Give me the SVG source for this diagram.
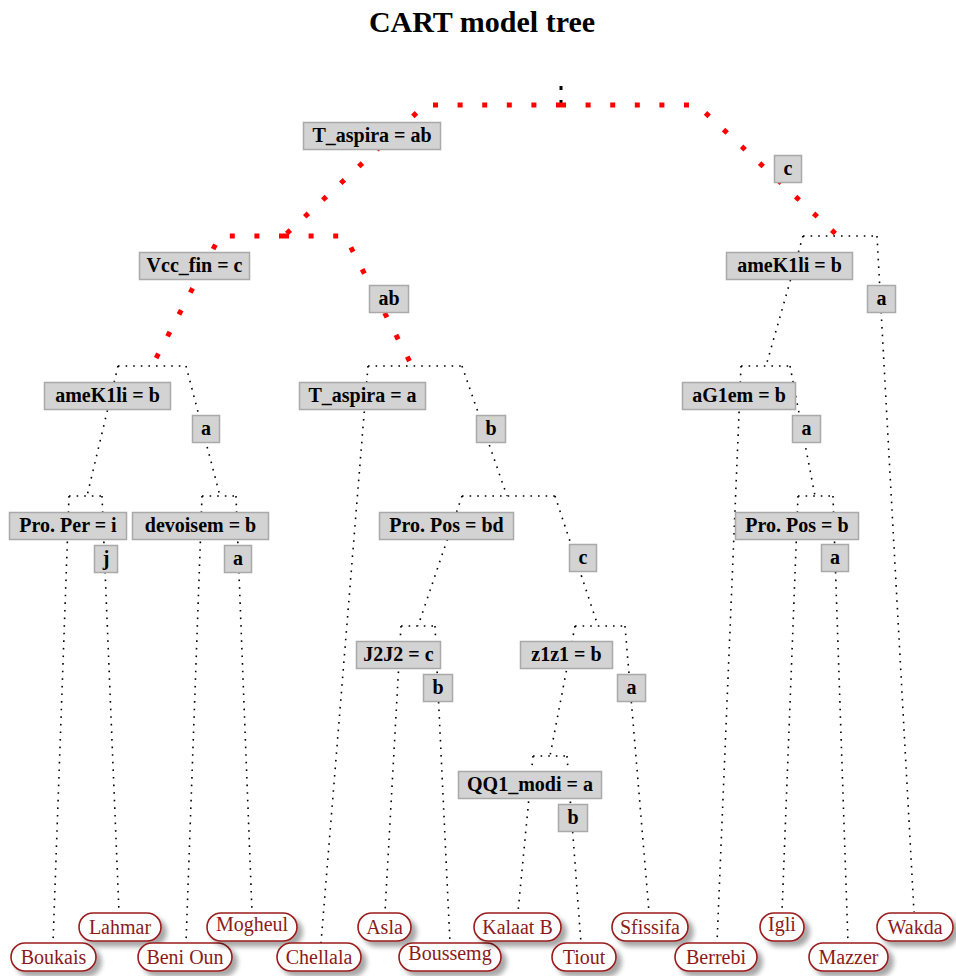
<svg xmlns="http://www.w3.org/2000/svg" width="956" height="976" viewBox="0 0 956 976">
<style>
.e{fill:none;stroke:#000;stroke-width:1.6;stroke-dasharray:1.6 6}
.r{fill:none;stroke:#f00;stroke-width:5;stroke-dasharray:5 19.6}
.lb rect{fill:#d3d3d3;stroke:#a9a9a9;stroke-width:1.5}
.lb text{font-family:"Liberation Serif","Times New Roman",serif;font-weight:bold;font-size:20px;fill:#000;text-anchor:middle}
.lf rect{fill:#fff;stroke:#9a1b1b;stroke-width:1.6}
.lf text{font-family:"Liberation Serif","Times New Roman",serif;font-size:20px;fill:#8b1a1a;text-anchor:middle}
.t{font-family:"Liberation Serif","Times New Roman",serif;font-weight:bold;font-size:30px;fill:#000;text-anchor:middle}
</style>
<defs>
<filter id="sh" x="-20%" y="-30%" width="150%" height="180%">
<feGaussianBlur in="SourceAlpha" stdDeviation="2.5"/>
<feOffset dx="5" dy="5" result="b"/>
<feComponentTransfer><feFuncA type="linear" slope="0.35"/></feComponentTransfer>
<feMerge><feMergeNode/><feMergeNode in="SourceGraphic"/></feMerge>
</filter>
</defs>
<rect width="956" height="976" fill="#fff"/>
<text class="t" x="482" y="32">CART model tree</text>

<g id="connectors">
<line x1="561" y1="86" x2="561" y2="107" stroke="#000" stroke-width="3" stroke-dasharray="4 10 7"/>
<path class="e" d="M803,236H877M803,236L766,366M877,236L914,912"/>
<path class="e" d="M118,366H186M118,366L87,496M186,366L220,496"/>
<path class="e" d="M368,366H462M368,366L321,943M462,366L507,496"/>
<path class="e" d="M69,496H102M69,496L53,943M102,496L119,912"/>
<path class="e" d="M202,496H236M202,496L186,943M236,496L252,912"/>
<path class="e" d="M462,496H555M462,496L418,626M555,496L598,626"/>
<path class="e" d="M401,626H435M401,626L385,912M435,626L450,943"/>
<path class="e" d="M575,626H625M575,626L550,756M625,626L649,912"/>
<path class="e" d="M533,756H567M533,756L518,912M567,756L581,943"/>
<path class="e" d="M741,366H790M741,366L717,943M790,366L815,496"/>
<path class="e" d="M798,496H833M798,496L782,912M833,496L848,943"/>
<path class="r" d="M561,105H425L284,236"/>
<path class="r" d="M561,105H697L838,236"/>
<path class="r" d="M284,236H220L152,366"/>
<path class="r" d="M284,236H345L412,366"/>
</g>

<g id="n-t_aspira_ab" class="lb"><rect x="303.5" y="122.5" width="137" height="27"/><text x="372" y="141.5">T_aspira = ab</text></g>
<g id="n-c1" class="lb"><rect x="774.5" y="155.5" width="27" height="27"/><text x="788" y="174.5">c</text></g>
<g id="n-vcc_fin" class="lb"><rect x="139.5" y="252.5" width="110" height="27"/><text x="194.5" y="271.5">Vcc_fin = c</text></g>
<g id="n-ab" class="lb"><rect x="369.5" y="285.5" width="39" height="27"/><text x="389" y="304.5">ab</text></g>
<g id="n-amek1li_l" class="lb"><rect x="44.5" y="382.5" width="126" height="27"/><text x="107.5" y="401.5">ameK1li = b</text></g>
<g id="n-a1" class="lb"><rect x="192.5" y="415.5" width="27" height="27"/><text x="206" y="434.5">a</text></g>
<g id="n-t_aspira_a" class="lb"><rect x="299.5" y="382.5" width="126" height="27"/><text x="362.5" y="401.5">T_aspira = a</text></g>
<g id="n-b1" class="lb"><rect x="476.5" y="415.5" width="29" height="27"/><text x="491" y="434.5">b</text></g>
<g id="n-proper" class="lb"><rect x="9.5" y="512.5" width="117" height="27"/><text x="68" y="531.5">Pro. Per = i</text></g>
<g id="n-j" class="lb"><rect x="94.5" y="545.5" width="23" height="27"/><text x="106" y="564.5">j</text></g>
<g id="n-devoisem" class="lb"><rect x="132.5" y="512.5" width="136" height="27"/><text x="200.5" y="531.5">devoisem = b</text></g>
<g id="n-a2" class="lb"><rect x="224.5" y="545.5" width="27" height="27"/><text x="238" y="564.5">a</text></g>
<g id="n-propos_bd" class="lb"><rect x="379.5" y="512.5" width="134" height="27"/><text x="446.5" y="531.5">Pro. Pos = bd</text></g>
<g id="n-c2" class="lb"><rect x="569.5" y="544.5" width="27" height="27"/><text x="583" y="563.5">c</text></g>
<g id="n-j2j2" class="lb"><rect x="356.5" y="641.5" width="84" height="27"/><text x="398.5" y="660.5">J2J2 = c</text></g>
<g id="n-b2" class="lb"><rect x="423.5" y="674.5" width="29" height="27"/><text x="438" y="693.5">b</text></g>
<g id="n-z1z1" class="lb"><rect x="520.5" y="641.5" width="92" height="27"/><text x="566.5" y="660.5">z1z1 = b</text></g>
<g id="n-a3" class="lb"><rect x="617.5" y="674.5" width="28" height="27"/><text x="631.5" y="693.5">a</text></g>
<g id="n-qq1" class="lb"><rect x="458.5" y="771.5" width="143" height="27"/><text x="530" y="790.5">QQ1_modi = a</text></g>
<g id="n-b3" class="lb"><rect x="558.5" y="804.5" width="29" height="27"/><text x="573" y="823.5">b</text></g>
<g id="n-amek1li_r" class="lb"><rect x="726.5" y="252.5" width="126" height="27"/><text x="789.5" y="271.5">ameK1li = b</text></g>
<g id="n-a4" class="lb"><rect x="867.5" y="285.5" width="28" height="27"/><text x="881.5" y="304.5">a</text></g>
<g id="n-ag1em" class="lb"><rect x="682.5" y="382.5" width="113" height="27"/><text x="739" y="401.5">aG1em = b</text></g>
<g id="n-a5" class="lb"><rect x="792.5" y="415.5" width="28" height="27"/><text x="806.5" y="434.5">a</text></g>
<g id="n-propos_b" class="lb"><rect x="735.5" y="512.5" width="123" height="27"/><text x="797" y="531.5">Pro. Pos = b</text></g>
<g id="n-a6" class="lb"><rect x="821.5" y="544.5" width="27" height="27"/><text x="835" y="563.5">a</text></g>

<g id="leaf-boukais" class="lf"><rect x="11" y="943" width="85" height="28" rx="14" filter="url(#sh)"/><text x="53.5" y="964">Boukais</text></g>
<g id="leaf-lahmar" class="lf"><rect x="79" y="913" width="82" height="28" rx="14" filter="url(#sh)"/><text x="120" y="934">Lahmar</text></g>
<g id="leaf-benioun" class="lf"><rect x="138" y="943" width="94" height="28" rx="14" filter="url(#sh)"/><text x="185" y="964">Beni Oun</text></g>
<g id="leaf-mogheul" class="lf"><rect x="207" y="913" width="90" height="28" rx="14" filter="url(#sh)"/><text x="252" y="931">Mogheul</text></g>
<g id="leaf-chellala" class="lf"><rect x="277" y="943" width="84" height="28" rx="14" filter="url(#sh)"/><text x="319" y="964">Chellala</text></g>
<g id="leaf-asla" class="lf"><rect x="358" y="913" width="53" height="28" rx="14" filter="url(#sh)"/><text x="384.5" y="934">Asla</text></g>
<g id="leaf-boussemg" class="lf"><rect x="399" y="943" width="102" height="28" rx="14" filter="url(#sh)"/><text x="450" y="960">Boussemg</text></g>
<g id="leaf-kalaatb" class="lf"><rect x="474" y="913" width="87" height="28" rx="14" filter="url(#sh)"/><text x="517.5" y="934">Kalaat B</text></g>
<g id="leaf-tiout" class="lf"><rect x="552" y="943" width="64" height="28" rx="14" filter="url(#sh)"/><text x="584" y="964">Tiout</text></g>
<g id="leaf-sfissifa" class="lf"><rect x="612" y="913" width="76" height="28" rx="14" filter="url(#sh)"/><text x="650" y="934">Sfissifa</text></g>
<g id="leaf-berrebi" class="lf"><rect x="675" y="943" width="82" height="28" rx="14" filter="url(#sh)"/><text x="716" y="964">Berrebi</text></g>
<g id="leaf-igli" class="lf"><rect x="760" y="913" width="44" height="28" rx="14" filter="url(#sh)"/><text x="782" y="931">Igli</text></g>
<g id="leaf-mazzer" class="lf"><rect x="809" y="943" width="79" height="28" rx="14" filter="url(#sh)"/><text x="848.5" y="964">Mazzer</text></g>
<g id="leaf-wakda" class="lf"><rect x="877" y="913" width="76" height="28" rx="14" filter="url(#sh)"/><text x="915" y="934">Wakda</text></g>
</svg>
